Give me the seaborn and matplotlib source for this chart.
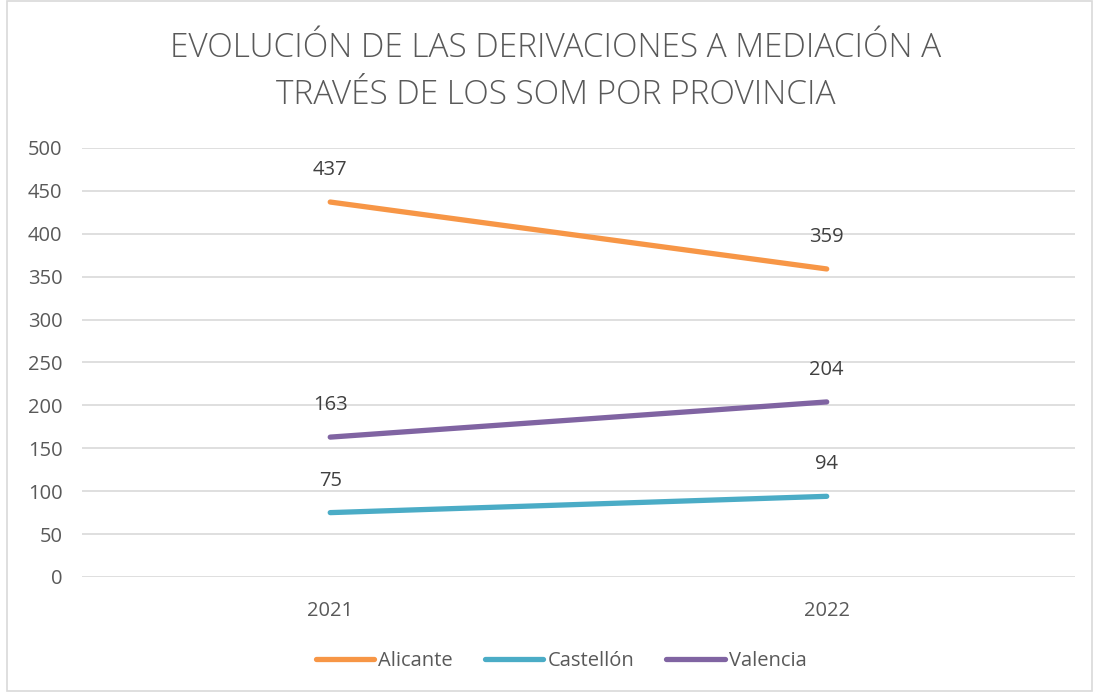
import matplotlib.pyplot as plt
import seaborn as sns
import pandas as pd

# Data
years = [2021, 2022]
provincias = ['Alicante', 'Castellón', 'Valencia']
alicante = [437, 359]
castellon = [75, 94]
valencia = [163, 204]
colores = {'Alicante': '#F79646', 'Castellón': '#4BACC6', 'Valencia': '#8064A2'}

df = pd.DataFrame({
    'year': years * 3,
    'provincia': [p for p in provincias for _ in years],
    'valor': alicante + castellon + valencia,
})

sns.set_theme(style="white")
plt.rcParams['font.family'] = ['Open Sans', 'DejaVu Sans']
text_gray = '#595959'

fig = plt.figure(figsize=(10.96, 6.97), dpi=100)
ax = fig.add_axes([0.0748, 0.1722, 0.906, 0.6155])

sns.lineplot(data=df, x='year', y='valor', hue='provincia', palette=colores,
             linewidth=3.8, solid_capstyle='round', ax=ax, legend=False)

for _, row in df.iterrows():
    ax.annotate(str(row['valor']), xy=(row['year'], row['valor']),
                xytext=(0, 23), textcoords='offset points',
                ha='center', va='center', fontsize=14.5, color='#404040')

ax.set_xlim(2020.5, 2022.5)
ax.set_ylim(0, 500)
ax.set_yticks(range(0, 501, 50))
ax.set_xticks(years)
ax.set_xticklabels([str(y) for y in years])
ax.grid(axis='y', color='#D9D9D9', linewidth=1.2)
ax.set_axisbelow(True)
for s in ax.spines.values():
    s.set_visible(False)
ax.tick_params(axis='both', length=0, labelsize=14.5, labelcolor=text_gray)
ax.tick_params(axis='y', pad=14)
ax.tick_params(axis='x', pad=17)
ax.set_xlabel('')
ax.set_ylabel('')

fig.text(0.507, 0.897, 'EVOLUCIÓN DE LAS DERIVACIONES A MEDIACIÓN A\nTRAVÉS DE LOS SOM POR PROVINCIA',
         ha='center', va='center', fontsize=24, color=text_gray, linespacing=1.55,
         fontweight='light')

handles = [plt.Line2D([], [], color=colores[p], linewidth=3.8, solid_capstyle='round') for p in provincias]
fig.legend(handles, provincias, loc='center', bbox_to_anchor=(0.512, 0.052), ncol=3,
           frameon=False, fontsize=14.5, labelcolor=text_gray, handlelength=2.9,
           handletextpad=0.2, columnspacing=1.6)

# Chart border
fig.patches.append(plt.Rectangle((0.006, 0.008), 0.99, 0.99, transform=fig.transFigure,
                                 fill=False, edgecolor='#D9D9D9', linewidth=1.2))

plt.savefig('out.png', dpi=100)
